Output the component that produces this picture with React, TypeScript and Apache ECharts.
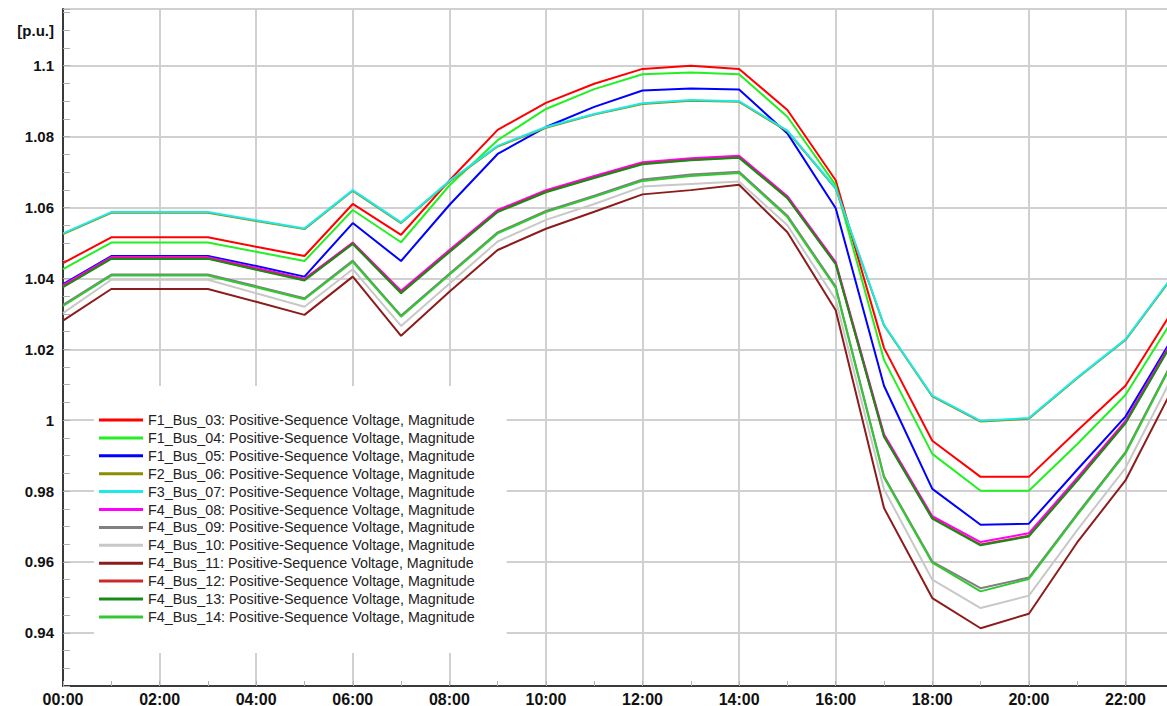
import React, { useEffect, useRef } from 'react';
import * as echarts from 'echarts';

// ---- data ----
const hours = [0, 1, 2, 3, 4, 5, 6, 7, 8, 9, 10, 11, 12, 13, 14, 15, 16, 17, 18, 19, 20, 21, 22, 23];
const xTickLabels = ['00:00', '02:00', '04:00', '06:00', '08:00', '10:00', '12:00', '14:00', '16:00', '18:00', '20:00', '22:00'];
const yTickValues = [0.94, 0.96, 0.98, 1, 1.02, 1.04, 1.06, 1.08, 1.1];
const yUnitLabel = '[p.u.]';
const yUnitValue = 1.11;

const seriesNames = [
  'F1_Bus_03: Positive-Sequence Voltage, Magnitude',
  'F1_Bus_04: Positive-Sequence Voltage, Magnitude',
  'F1_Bus_05: Positive-Sequence Voltage, Magnitude',
  'F2_Bus_06: Positive-Sequence Voltage, Magnitude',
  'F3_Bus_07: Positive-Sequence Voltage, Magnitude',
  'F4_Bus_08: Positive-Sequence Voltage, Magnitude',
  'F4_Bus_09: Positive-Sequence Voltage, Magnitude',
  'F4_Bus_10: Positive-Sequence Voltage, Magnitude',
  'F4_Bus_11: Positive-Sequence Voltage, Magnitude',
  'F4_Bus_12: Positive-Sequence Voltage, Magnitude',
  'F4_Bus_13: Positive-Sequence Voltage, Magnitude',
  'F4_Bus_14: Positive-Sequence Voltage, Magnitude',
];

const seriesColors = [
  '#ff0000', '#22f022', '#0000ff', '#8c8c00', '#1ee8e8', '#ff00ff',
  '#808080', '#c8c8c8', '#8c1c1c', '#cc2a2a', '#188c18', '#32c832',
];

const f1Bus03 = [1.0443, 1.0516, 1.0516, 1.0516, 1.0489, 1.0463, 1.0610, 1.0523, 1.0676, 1.0819, 1.0895, 1.0949, 1.0991, 1.1000, 1.0991, 1.0875, 1.0677, 1.0204, 0.9942, 0.9840, 0.9840, 0.9970, 1.0097, 1.0314];
const f1Bus04 = [1.0426, 1.0501, 1.0501, 1.0501, 1.0475, 1.0449, 1.0593, 1.0502, 1.0662, 1.0790, 1.0878, 1.0934, 1.0976, 1.0981, 1.0976, 1.0856, 1.0663, 1.0170, 0.9905, 0.9801, 0.9801, 0.9932, 1.0071, 1.0289];
const f1Bus05 = [1.0384, 1.0463, 1.0463, 1.0463, 1.0435, 1.0405, 1.0556, 1.0449, 1.0607, 1.0751, 1.0827, 1.0884, 1.0930, 1.0936, 1.0933, 1.0809, 1.0598, 1.0097, 0.9806, 0.9705, 0.9708, 0.9860, 1.0010, 1.0238];
const f2Bus06 = [1.0525, 1.0585, 1.0585, 1.0585, 1.0562, 1.0539, 1.0647, 1.0556, 1.0673, 1.0772, 1.0825, 1.0862, 1.0892, 1.0901, 1.0898, 1.0815, 1.0653, 1.0267, 1.0067, 0.9996, 1.0004, 1.0118, 1.0226, 1.0409];
const f3Bus07 = [1.0527, 1.0587, 1.0587, 1.0587, 1.0564, 1.0541, 1.0649, 1.0558, 1.0675, 1.0774, 1.0827, 1.0864, 1.0894, 1.0903, 1.0900, 1.0817, 1.0655, 1.0269, 1.0069, 0.9998, 1.0006, 1.0120, 1.0228, 1.0411];
const f4Bus08 = [1.0381, 1.0460, 1.0460, 1.0460, 1.0430, 1.0399, 1.0501, 1.0365, 1.0480, 1.0593, 1.0649, 1.0689, 1.0728, 1.0739, 1.0746, 1.0632, 1.0446, 0.9960, 0.9729, 0.9656, 0.9681, 0.9837, 0.9998, 1.0232];
const f4Bus09 = [1.0325, 1.0411, 1.0411, 1.0411, 1.0378, 1.0344, 1.0450, 1.0295, 1.0413, 1.0530, 1.0590, 1.0633, 1.0679, 1.0693, 1.0701, 1.0577, 1.0377, 0.9842, 0.9601, 0.9526, 0.9556, 0.9736, 0.9910, 1.0173];
const f4Bus10 = [1.0302, 1.0396, 1.0396, 1.0396, 1.0358, 1.0320, 1.0426, 1.0266, 1.0385, 1.0504, 1.0565, 1.0610, 1.0659, 1.0666, 1.0673, 1.0550, 1.0340, 0.9805, 0.9550, 0.9470, 0.9505, 0.9690, 0.9865, 1.0130];
const f4Bus11 = [1.0281, 1.0370, 1.0370, 1.0370, 1.0334, 1.0297, 1.0405, 1.0238, 1.0362, 1.0480, 1.0540, 1.0588, 1.0637, 1.0649, 1.0664, 1.0530, 1.0310, 0.9752, 0.9498, 0.9413, 0.9454, 0.9655, 0.9830, 1.0095];
const f4Bus12 = [1.0377, 1.0457, 1.0457, 1.0457, 1.0426, 1.0396, 1.0499, 1.0360, 1.0476, 1.0589, 1.0645, 1.0685, 1.0724, 1.0735, 1.0742, 1.0628, 1.0442, 0.9955, 0.9724, 0.9649, 0.9674, 0.9831, 0.9993, 1.0228];
const f4Bus13 = [1.0375, 1.0455, 1.0455, 1.0455, 1.0424, 1.0394, 1.0497, 1.0358, 1.0474, 1.0587, 1.0643, 1.0683, 1.0722, 1.0733, 1.0740, 1.0626, 1.0440, 0.9953, 0.9722, 0.9647, 0.9672, 0.9829, 0.9991, 1.0226];
const f4Bus14 = [1.0322, 1.0408, 1.0408, 1.0408, 1.0375, 1.0341, 1.0447, 1.0292, 1.0410, 1.0527, 1.0587, 1.0630, 1.0675, 1.0689, 1.0697, 1.0573, 1.0373, 0.9838, 0.9598, 0.9517, 0.9552, 0.9732, 0.9906, 1.0169];

const seriesValues = [f1Bus03, f1Bus04, f1Bus05, f2Bus06, f3Bus07, f4Bus08, f4Bus09, f4Bus10, f4Bus11, f4Bus12, f4Bus13, f4Bus14];

const FONT = '"Liberation Sans", Arial, sans-serif';

export default function App() {
  const ref = useRef<HTMLDivElement>(null);

  useEffect(() => {
    if (!ref.current) return;
    const chart = echarts.init(ref.current, undefined, { renderer: 'svg' });

    const series = seriesNames.map((name, i) => ({
      name,
      type: 'line',
      symbol: 'none',
      showSymbol: false,
      color: seriesColors[i],
      lineStyle: { width: 2, color: seriesColors[i] },
      data: hours.map((h, k) => [h, seriesValues[i][k]]),
      clip: true,
    }));

    chart.setOption({
      animation: false,
      backgroundColor: '#ffffff',
      grid: { left: 63, right: 0, top: 9, bottom: 20, containLabel: false, outerBoundsMode: 'none' },
      legend: {
        orient: 'vertical',
        left: 94,
        top: 386,
        backgroundColor: '#ffffff',
        padding: [27, 32, 29, 5],
        icon: 'rect',
        itemWidth: 44,
        itemHeight: 3,
        itemGap: 3.9,
        selectedMode: false,
        textStyle: { fontSize: 14.3, lineHeight: 14, color: '#222222', fontFamily: FONT },
        data: seriesNames,
      },
      xAxis: {
        type: 'value',
        min: 0,
        max: 22.86,
        interval: 1,
        axisLine: { show: true, onZero: false, lineStyle: { color: '#3a3a3a', width: 2 } },
        axisTick: { show: true, inside: true, length: 5, lineStyle: { color: '#b0b0b0', width: 1 } },
        splitLine: { show: true, lineStyle: { color: ['#d0d0d0', 'rgba(0,0,0,0)'], width: 2 } },
        axisLabel: {
          margin: 5,
          color: '#111111',
          fontWeight: 'bold',
          fontSize: 16,
          fontFamily: FONT,
          showMinLabel: true,
          showMaxLabel: true,
          formatter: (v: number) => {
            if (Math.abs(v - Math.round(v)) > 1e-6) return '';
            const h = Math.round(v);
            if (h % 2 !== 0) return '';
            return xTickLabels[h / 2] ?? '';
          },
        },
      },
      yAxis: {
        type: 'value',
        min: 0.925,
        max: 1.116,
        interval: 0.005,
        axisLine: { show: true, onZero: false, lineStyle: { color: '#3a3a3a', width: 2 } },
        axisTick: { show: true, inside: true, length: 7, lineStyle: { color: '#b0b0b0', width: 1 } },
        splitLine: {
          show: true,
          lineStyle: { color: ['rgba(0,0,0,0)', 'rgba(0,0,0,0)', 'rgba(0,0,0,0)', '#d0d0d0'], width: 2 },
        },
        axisLabel: {
          margin: 9,
          color: '#111111',
          fontWeight: 'bold',
          fontSize: 15,
          fontFamily: FONT,
          showMinLabel: true,
          showMaxLabel: true,
          formatter: (v: number) => {
            if (Math.abs(v - yUnitValue) < 1e-6) return yUnitLabel;
            const hit = yTickValues.find((t) => Math.abs(t - v) < 1e-6);
            return hit !== undefined ? String(hit) : '';
          },
        },
      },
      series,
    } as any);

    return () => chart.dispose();
  }, []);

  return (
    <div
      ref={ref}
      style={{ position: 'absolute', left: 0, top: 0, width: 1167, height: 706, background: '#fff' }}
    />
  );
}
